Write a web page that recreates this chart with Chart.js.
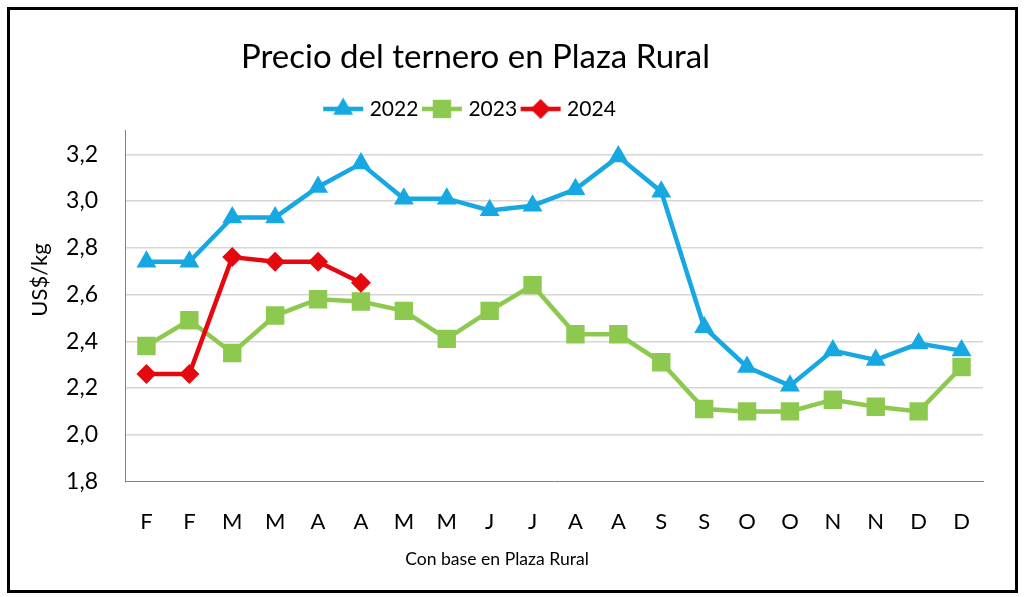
<!DOCTYPE html>
<html>
  <head>
    <script src="https://cdn.jsdelivr.net/npm/chart.js@4/dist/chart.umd.min.js"></script>
    <style>
      body { margin: 0; background: #fff; }
      #wrap { position: relative; width: 1024px; height: 597px; }
    </style>
  </head>

  <body>
    <div id="wrap"><canvas id="canvas"></canvas></div>
    <script>
      const months = ['F', 'F', 'M', 'M', 'A', 'A', 'M', 'M', 'J', 'J', 'A', 'A', 'S', 'S', 'O', 'O', 'N', 'N', 'D', 'D'];
      const precio2022 = [2.74, 2.74, 2.93, 2.93, 3.06, 3.16, 3.01, 3.01, 2.96, 2.98, 3.05, 3.19, 3.04, 2.46, 2.29, 2.21, 2.36, 2.32, 2.39, 2.36];
      const precio2023 = [2.38, 2.49, 2.35, 2.51, 2.58, 2.57, 2.53, 2.41, 2.53, 2.64, 2.43, 2.43, 2.31, 2.11, 2.10, 2.10, 2.15, 2.12, 2.10, 2.29];
      const precio2024 = [2.26, 2.26, 2.76, 2.74, 2.74, 2.65];
      const yTicks = [1.8, 2.0, 2.2, 2.4, 2.6, 2.8, 3.0, 3.2];

      const BLUE = '#16a8e2';
      const GREEN = '#8dc94e';
      const RED = '#e5080e';

      Chart.defaults.font.family = 'Lato';
      Chart.defaults.color = '#000';

      // little line + marker pictures for the legend
      function legendIcon(color, style, radius) {
        const c = document.createElement('canvas');
        c.width = 42;
        c.height = 26;
        const g = c.getContext('2d');
        g.strokeStyle = color;
        g.fillStyle = color;
        g.lineWidth = 4.5;
        g.beginPath();
        g.moveTo(1, 13);
        g.lineTo(41, 13);
        g.stroke();
        Chart.helpers.drawPoint(g, { pointStyle: style, radius: radius, borderWidth: 0, rotation: 0 }, 21, 13);
        return c;
      }

      const frame = {
        id: 'frame',
        afterLayout(chart) {
          // Excel placed title and legend a bit left of centre
          chart.titleBlock.left -= 26;
          chart.titleBlock.right -= 26;
          chart.legend.left -= 30;
          chart.legend.right -= 30;
          chart.legend.top -= 1.5;
          chart.legend.bottom -= 1.5;
        },
        afterDraw(chart) {
          const ctx = chart.ctx;
          ctx.save();
          ctx.fillStyle = '#000';
          ctx.textAlign = 'center';
          ctx.textBaseline = 'middle';
          ctx.font = '17.6px Lato';
          ctx.fillText('Con base en Plaza Rural', 497, 559);
          ctx.translate(40, 280);
          ctx.rotate(-Math.PI / 2);
          ctx.font = '22px Lato';
          ctx.fillText('US$/kg', 0, 0);
          ctx.restore();
          ctx.save();
          ctx.strokeStyle = '#000';
          ctx.lineWidth = 3;
          ctx.strokeRect(8.5, 8.5, 1008, 583);
          ctx.restore();
        },
      };

      const series = [
        { label: '2022', data: precio2022, color: BLUE, style: 'triangle', radius: 11.5, order: 3 },
        { label: '2023', data: precio2023, color: GREEN, style: 'rect', radius: 13, order: 2 },
        { label: '2024', data: precio2024, color: RED, style: 'rectRot', radius: 10, order: 1 },
      ];

      new Chart(document.getElementById('canvas'), {
        type: 'line',
        data: {
          labels: months,
          datasets: series.map((s) => ({
            label: s.label,
            data: s.data,
            order: s.order,
            borderColor: s.color,
            backgroundColor: s.color,
            borderWidth: 4.5,
            pointStyle: s.style,
            pointRadius: s.radius,
            pointBorderWidth: 0,
            pointBackgroundColor: s.color,
            tension: 0,
          })),
        },
        options: {
          responsive: true,
          maintainAspectRatio: false,
          animation: false,
          layout: { padding: { top: 12, left: 20, right: 41, bottom: 10 } },
          plugins: {
            tooltip: { enabled: false },
            title: {
              display: true,
              text: 'Precio del ternero en Plaza Rural',
              font: { size: 33, weight: 'normal' },
              padding: { top: 25.6, bottom: 15.2 },
            },
            legend: {
              display: true,
              labels: {
                usePointStyle: true,
                pointStyleWidth: 32,
                padding: 7.5,
                font: { size: 21 },
                generateLabels: (chart) =>
                  series.map((s, i) => ({
                    text: s.label,
                    datasetIndex: i,
                    pointStyle: legendIcon(s.color, s.style, s.radius),
                    fillStyle: s.color,
                    strokeStyle: s.color,
                    lineWidth: 0,
                    hidden: false,
                  })),
              },
            },
          },
          scales: {
            x: {
              offset: true,
              grid: { display: false, drawTicks: false },
              border: { display: true, color: '#808080', width: 1 },
              ticks: { padding: 27, font: { size: 22 } },
              afterFit: (scale) => { scale.height = 105.5; },
            },
            y: {
              min: 1.8,
              max: 3.3,
              grid: {
                drawTicks: false,
                color: (c) => (c.tick && c.tick.value === 1.8 ? 'rgba(0,0,0,0)' : '#d6d6d6'),
                lineWidth: 1.5,
              },
              border: { display: true, color: '#808080', width: 1 },
              ticks: {
                padding: 27,
                font: { size: 23 },
                callback: (v) => Number(v).toFixed(1).replace('.', ','),
              },
              afterBuildTicks: (scale) => { scale.ticks = yTicks.map((v) => ({ value: v })); },
              afterFit: (scale) => { scale.width = 105; },
            },
          },
        },
        plugins: [frame],
      });
    </script>
  </body>
</html>
